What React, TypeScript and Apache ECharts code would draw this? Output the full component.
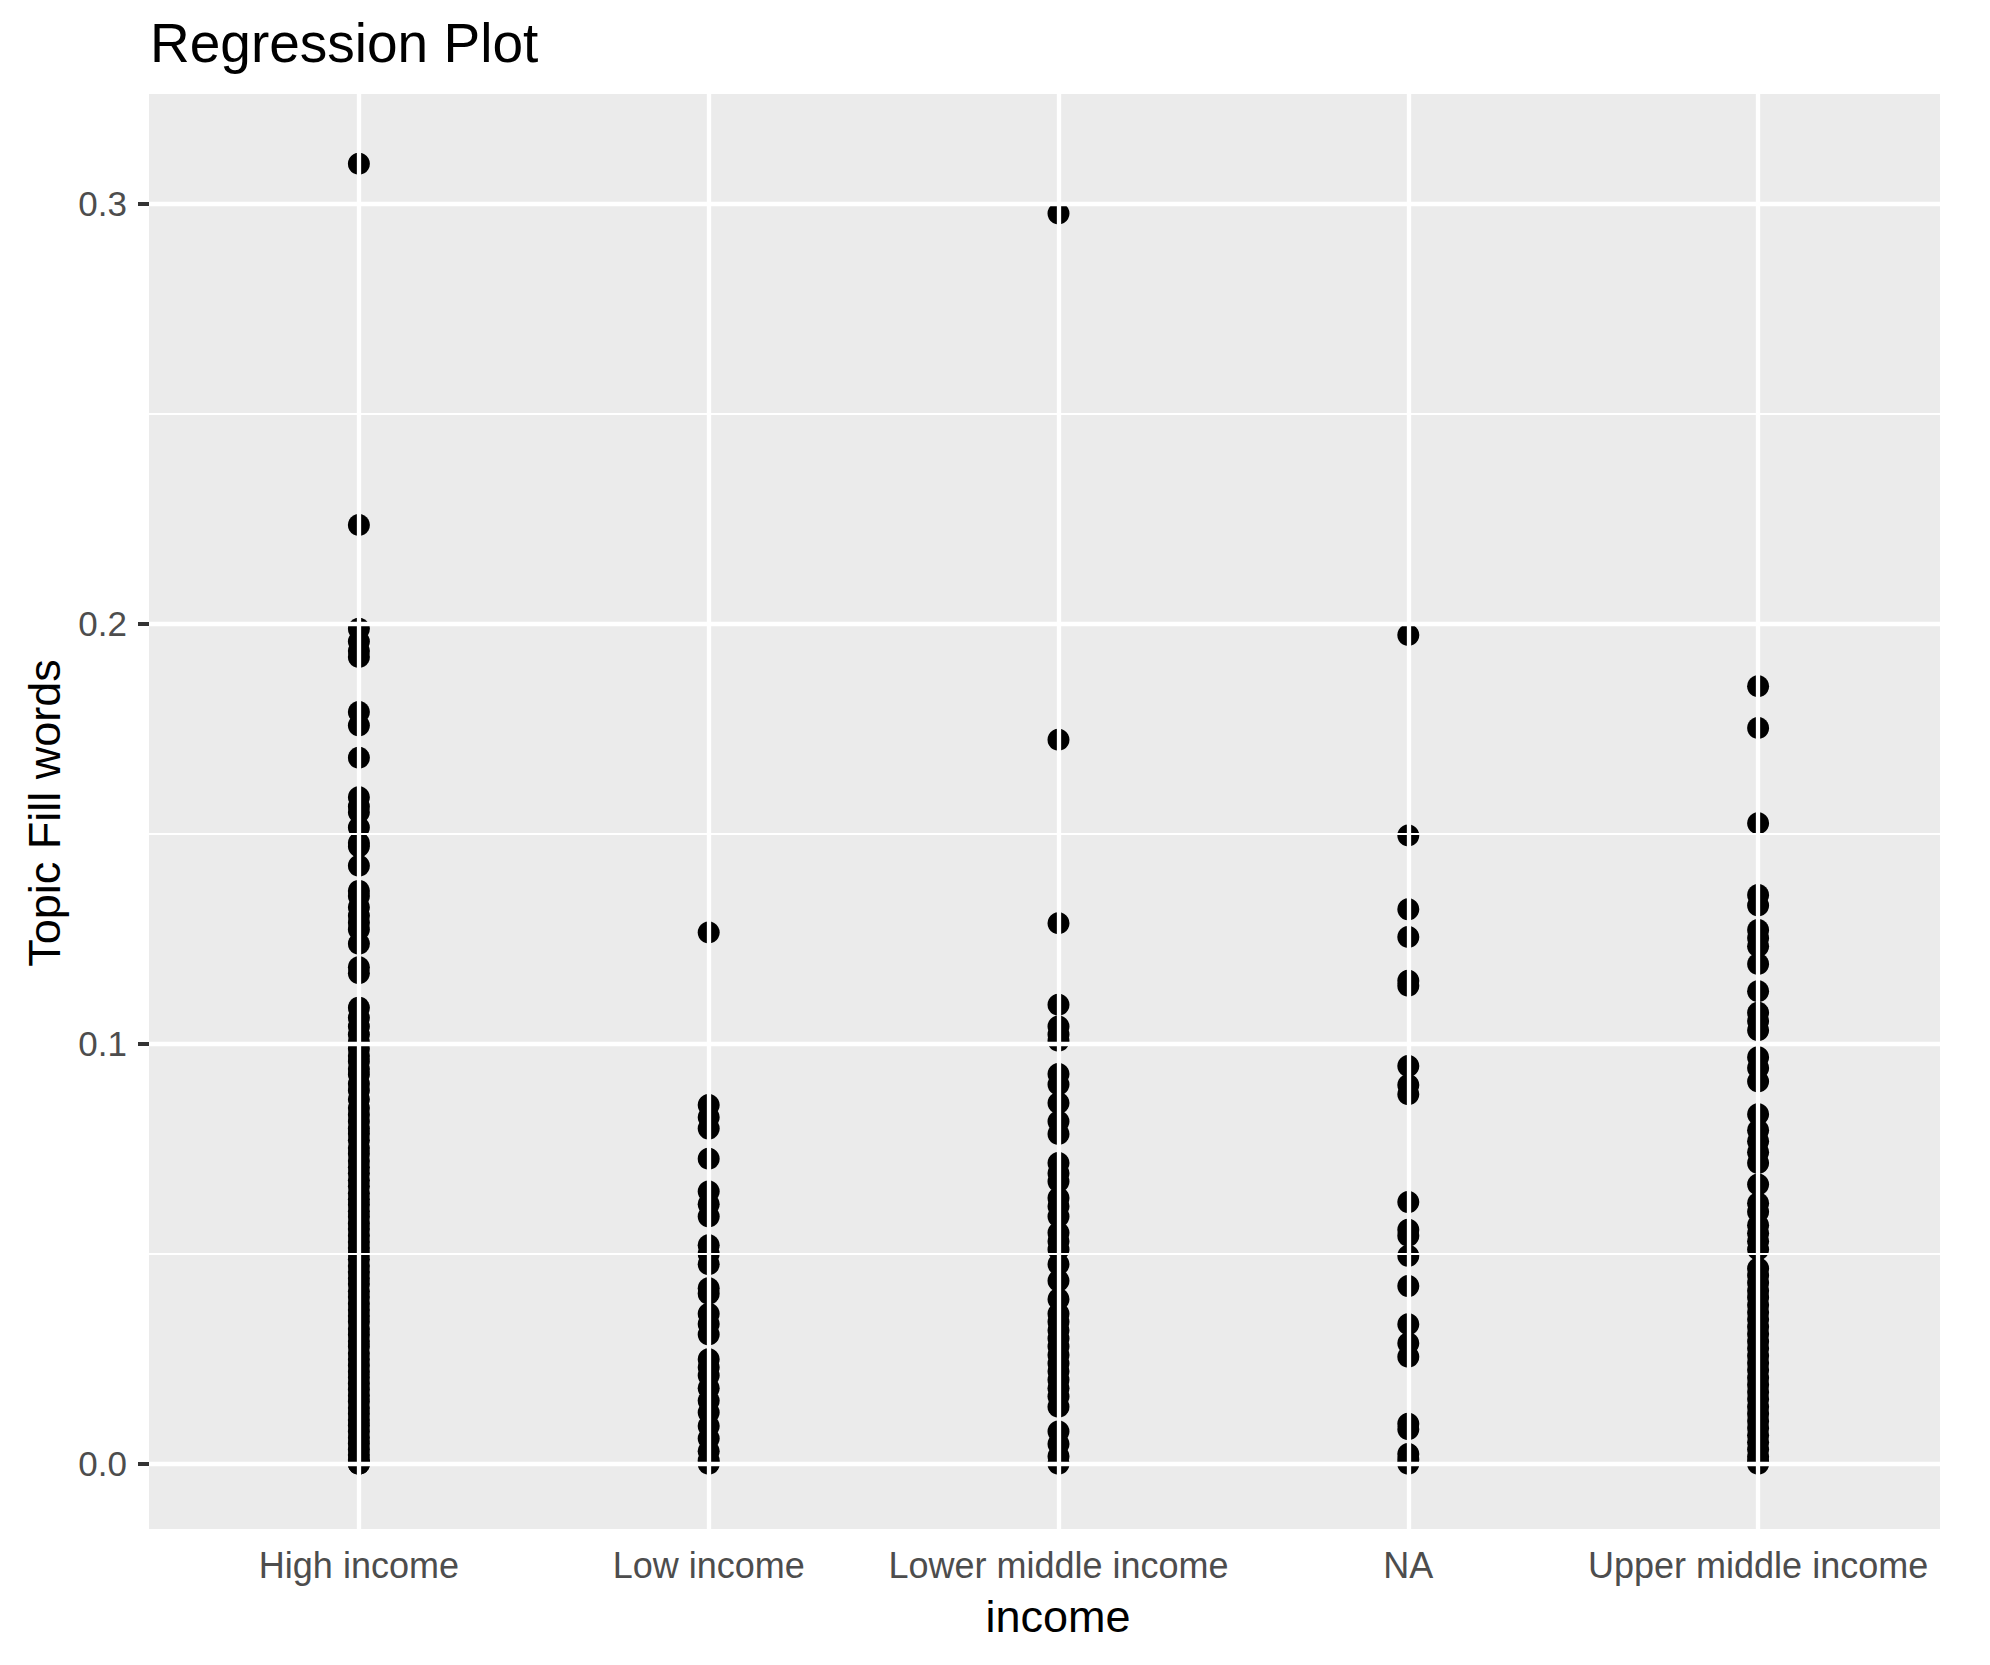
import React, { useEffect, useRef } from "react";
import * as echarts from "echarts";

const categories = ["High income", "Low income", "Lower middle income", "NA", "Upper middle income"];

const highIncome = [
  0.3095, 0.2235, 0.1988, 0.1958, 0.1935, 0.1921, 0.179, 0.1758, 0.1681, 0.1587, 0.1565, 0.1551, 0.1515,
  0.1478, 0.147, 0.1424, 0.1364, 0.1352, 0.1325, 0.1305, 0.1288, 0.1272, 0.1238, 0.1182, 0.1168,
  0.1086, 0.1062, 0.1041, 0.1022, 0.1004, 0.0988, 0.0971, 0.0958, 0.094, 0.0927, 0.0905, 0.0889, 0.0868,
  0.0847, 0.0831, 0.0815, 0.0798, 0.0786, 0.077, 0.0752, 0.0738, 0.0721, 0.0706, 0.0692, 0.0675, 0.0661,
  0.0644, 0.063, 0.0617, 0.0601, 0.0588, 0.0572, 0.0559, 0.0543, 0.0528, 0.0514, 0.05, 0.0487, 0.0471,
  0.0456, 0.0442, 0.0428, 0.0411, 0.0397, 0.0381, 0.0366, 0.0352, 0.0338, 0.0321, 0.0307, 0.0292, 0.0279,
  0.0263, 0.0249, 0.0234, 0.0219, 0.0206, 0.0191, 0.0177, 0.0162, 0.0148, 0.0133, 0.0119, 0.0104, 0.0091,
  0.0077, 0.0062, 0.0048, 0.0034, 0.0021, 0.0009, 0.0003, 0.0, 0.0,
];

const lowIncome = [
  0.1265, 0.0854, 0.0825, 0.0798, 0.0726, 0.0648, 0.0618, 0.0589, 0.052, 0.05, 0.0475, 0.0418, 0.0405,
  0.0357, 0.0333, 0.0308, 0.0249, 0.023, 0.021, 0.018, 0.015, 0.0122, 0.009, 0.006, 0.003, 0.0008, 0.0,
];

const lowerMiddleIncome = [
  0.2977, 0.1724, 0.1287, 0.1093, 0.1041, 0.1022, 0.1007, 0.0928, 0.0903, 0.0859, 0.0815, 0.0785, 0.0716,
  0.0692, 0.0672, 0.0633, 0.0613, 0.0589, 0.055, 0.053, 0.051, 0.0475, 0.0436, 0.0392, 0.0357, 0.0338,
  0.0318, 0.0298, 0.0279, 0.0259, 0.0239, 0.022, 0.02, 0.018, 0.016, 0.0136, 0.0077, 0.0047, 0.0018, 0.0,
];

const naIncome = [
  0.1973, 0.1496, 0.132, 0.1254, 0.115, 0.1138, 0.0947, 0.0902, 0.088, 0.0623, 0.0557, 0.0543, 0.0495,
  0.0423, 0.0332, 0.0287, 0.0255, 0.0095, 0.0082, 0.0023, 0.001, 0.0,
];

const upperMiddleIncome = [
  0.1851, 0.1752, 0.1525, 0.1354, 0.1329, 0.1271, 0.1252, 0.1232, 0.119, 0.1125, 0.1074, 0.1054, 0.1032,
  0.0968, 0.0942, 0.091, 0.0832, 0.0794, 0.0768, 0.0742, 0.0716, 0.0665, 0.062, 0.06, 0.0568, 0.0549,
  0.053, 0.051, 0.0465, 0.0448, 0.0431, 0.0412, 0.0396, 0.0378, 0.0361, 0.0344, 0.0326, 0.0309, 0.0291,
  0.0275, 0.0257, 0.024, 0.0223, 0.0205, 0.0188, 0.0171, 0.0154, 0.0136, 0.0119, 0.0102, 0.0085, 0.0068,
  0.0051, 0.0034, 0.0017, 0.0005, 0.0,
];

const yMajorTicks = [0, 0.1, 0.2, 0.3];
const yMinorLines = [0.05, 0.15, 0.25];
const xTicks = [1, 2, 3, 4, 5];

const FONT = "'Liberation Sans', Arial, Helvetica, sans-serif";

export default function App() {
  const ref = useRef<HTMLDivElement>(null);

  useEffect(() => {
    if (!ref.current) return;
    const chart = echarts.init(ref.current, null, { renderer: "svg" });

    const groups = [highIncome, lowIncome, lowerMiddleIncome, naIncome, upperMiddleIncome];
    const points: number[][] = [];
    groups.forEach((vals, i) => vals.forEach((v) => points.push([i + 1, v])));

    const dataMax = 0.3106;
    const pad = dataMax * 0.05;

    const option = {
      animation: false,
      backgroundColor: "#FFFFFF",
      grid: {
        left: 149,
        top: 94,
        width: 1791,
        height: 1435,
        show: true,
        backgroundColor: "#EBEBEB",
        borderWidth: 0,
        containLabel: false,
      },
      xAxis: {
        type: "value",
        min: 0.4,
        max: 5.52,
        axisLine: { show: false },
        splitLine: { show: false },
        axisTick: {
          show: true,
          customValues: xTicks,
          length: 11,
          lineStyle: { color: "#333333", width: 4 },
        },
        axisLabel: {
          show: true,
          customValues: xTicks,
          formatter: (v: number) => categories[Math.round(v) - 1] ?? "",
          color: "#4D4D4D",
          fontSize: 36,
          fontFamily: FONT,
          margin: 18,
        },
      },
      yAxis: {
        type: "value",
        min: -pad,
        max: dataMax + pad,
        axisLine: { show: false },
        splitLine: { show: false },
        axisTick: {
          show: true,
          customValues: yMajorTicks,
          length: 11,
          lineStyle: { color: "#333333", width: 4 },
        },
        axisLabel: {
          show: true,
          customValues: yMajorTicks,
          formatter: (v: number) => v.toFixed(1),
          color: "#4D4D4D",
          fontSize: 35,
          fontFamily: FONT,
          margin: 22,
        },
      },
      graphic: [
        {
          type: "text",
          style: {
            text: "Regression Plot",
            x: 150,
            y: 43,
            fill: "#000000",
            font: `55px ${FONT}`,
            textAlign: "left",
            verticalAlign: "middle",
          },
        },
        {
          type: "text",
          x: 44,
          y: 813,
          rotation: Math.PI / 2,
          style: {
            text: "Topic Fill words",
            x: 0,
            y: 0,
            fill: "#000000",
            font: `45px ${FONT}`,
            textAlign: "center",
            verticalAlign: "middle",
          },
        },
        {
          type: "text",
          style: {
            text: "income",
            x: 1058,
            y: 1616,
            fill: "#000000",
            font: `45px ${FONT}`,
            textAlign: "center",
            verticalAlign: "middle",
          },
        },
      ],
      series: [
        {
          type: "scatter",
          data: [],
          z: 1,
          silent: true,
          markLine: {
            silent: true,
            symbol: ["none", "none"],
            label: { show: false },
            animation: false,
            data: [
              ...yMinorLines.map((v) => ({ yAxis: v, lineStyle: { color: "#FFFFFF", width: 2.2, type: "solid" } })),
              ...yMajorTicks.map((v) => ({ yAxis: v, lineStyle: { color: "#FFFFFF", width: 4.3, type: "solid" } })),
              ...xTicks.map((v) => ({ xAxis: v, lineStyle: { color: "#FFFFFF", width: 4.3, type: "solid" } })),
            ],
          },
        },
        {
          type: "scatter",
          z: 3,
          data: points,
          symbol: "circle",
          symbolSize: 22,
          itemStyle: { color: "#000000", opacity: 1 },
          emphasis: { disabled: true },
        },
      ],
    };

    chart.setOption(option as any);
    return () => chart.dispose();
  }, []);

  return (
    <div
      ref={ref}
      style={{ position: "absolute", left: 0, top: 0, width: 1990, height: 1665 }}
    />
  );
}
